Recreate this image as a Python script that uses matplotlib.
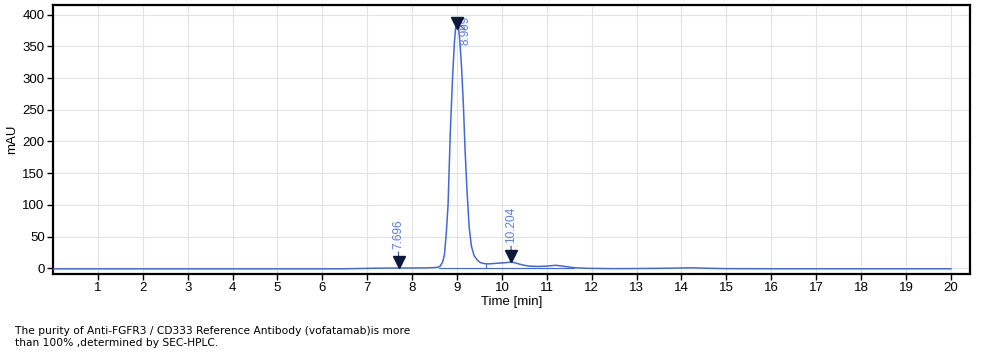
import matplotlib
matplotlib.use("Agg")
import matplotlib.pyplot as plt
import matplotlib.transforms as mtransforms

# chromatogram trace (time in min, absorbance in mAU)
time = [0, 1, 2, 3, 4, 5, 6, 6.5, 6.8, 7.2, 7.696, 8.0, 8.3, 8.45, 8.55,
        8.62, 8.68, 8.72, 8.76, 8.80, 8.85, 8.90, 8.94, 8.97, 9.0, 9.03,
        9.06, 9.10, 9.14, 9.18, 9.22, 9.27, 9.32, 9.38, 9.45, 9.52, 9.6,
        9.7, 9.8, 9.9, 10.0, 10.1, 10.204, 10.3, 10.45, 10.6, 10.8, 11.0,
        11.2, 11.4, 11.6, 11.9, 12.5, 13.0, 13.5, 14.0, 14.25, 14.5, 15,
        16, 17, 18, 19, 20]
mau = [-0.8, -0.8, -0.8, -0.8, -0.8, -0.8, -0.8, -0.7, -0.3, 0.2, 0.5, 0.5,
       0.7, 1.0, 1.5, 3, 10, 22, 55, 100, 215, 300, 355, 380, 388, 382,
       360, 318, 260, 185, 125, 65, 35, 20, 13, 9, 7.5, 7, 7.5, 8, 8.5, 9,
       10, 8.5, 5.5, 3.5, 3, 3.5, 4.8, 3, 1, 0, -0.5, -0.3, 0, 0.5, 0.8,
       0.2, -0.5, -0.7, -0.7, -0.7, -0.7, -0.7]

# integration baseline and drop line
base_t = [8.6, 11.6]
base_y = [0, 0]
drop_t = [9.64, 9.64]
drop_y = [0, 7.3]

# peak labels
peak_t = [7.696, 8.999, 10.204]
peak_y = [1, 378, 10]
peak_lab = ["7.696", "8.999", "10.204"]
lab_off = [(0, 9), (6, -16), (0, 9)]

caption = ("The purity of Anti-FGFR3 / CD333 Reference Antibody (vofatamab)is more\n"
           "than 100% ,determined by SEC-HPLC.")

line_c = "#4468d8"
lab_c = "#5a7fe0"

fig = plt.figure(figsize=(9.95, 3.62), dpi=100)
ax = fig.add_axes([0.0533, 0.243, 0.9217, 0.743])

ax.plot(time, mau, color=line_c, lw=1.1, zorder=3)
ax.plot(base_t, base_y, color=line_c, lw=0.8, zorder=2)
ax.plot(drop_t, drop_y, color=line_c, lw=0.8, zorder=2)

up = mtransforms.offset_copy(ax.transData, fig=fig, x=0, y=6, units="dots")
ax.plot(peak_t, peak_y, linestyle="none", marker="v", ms=8, color="#0b1a3c",
        transform=up, zorder=5)
for t, y, s, off in zip(peak_t, peak_y, peak_lab, lab_off):
    ax.annotate(s, xy=(t, y), xycoords=up, xytext=off, textcoords="offset points",
                rotation=90, ha="center", va="bottom", fontsize=8.5, color=lab_c,
                family="Liberation Sans",
                arrowprops=dict(arrowstyle="-", color="#3a5ab0", lw=0.9,
                                shrinkA=0, shrinkB=0), zorder=4)

ax.set_xlim(0, 20.43)
ax.set_ylim(-9, 415)
ax.set_xticks(range(1, 21))
ax.set_yticks(range(0, 401, 50))
ax.grid(True, color="#e3e3e3", lw=0.8)
ax.set_axisbelow(True)
for sp in ax.spines.values():
    sp.set_linewidth(1.6)
ax.tick_params(direction="out", length=4, width=1, labelsize=9.5, pad=2)
for lbl in ax.get_xticklabels() + ax.get_yticklabels():
    lbl.set_family("Liberation Sans")
ax.set_xlabel("Time [min]", fontsize=9.5, family="Liberation Sans", labelpad=1)
ax.set_ylabel("mAU", fontsize=9.5, family="Liberation Sans", labelpad=3)

fig.text(0.015, 0.1, caption, fontsize=7.7, va="top", ha="left",
         family="DejaVu Sans", linespacing=1.3)

fig.savefig("out.png", dpi=100)
